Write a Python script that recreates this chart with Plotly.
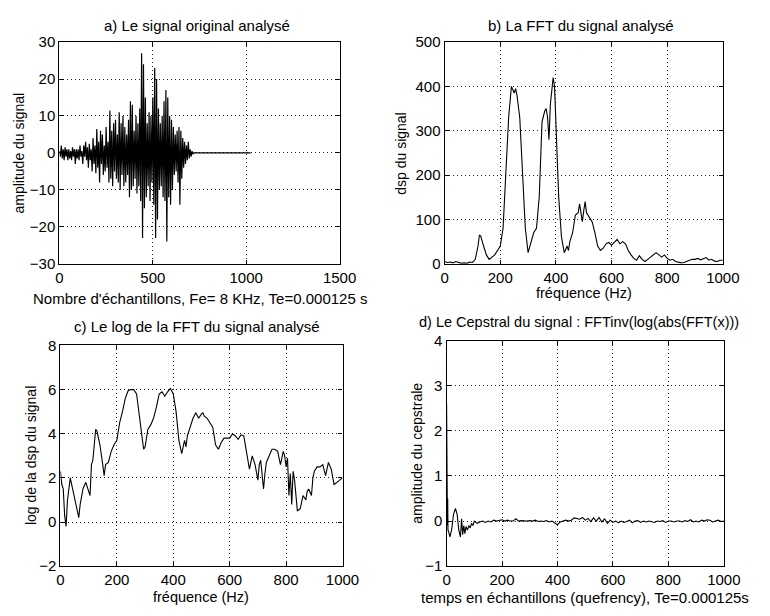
import plotly.graph_objects as go

# ---------------- data ----------------
# a) original signal (sample index, amplitude)
sig_n = [0, 5, 10, 15, 20, 25, 30, 35, 40, 45, 50, 55, 60, 65, 70, 75, 80, 85, 90, 95,
         100, 105, 110, 115, 120, 125, 130, 135, 140, 145, 150, 155, 160, 165, 170, 175, 180, 185, 190, 195,
         200, 205, 210, 215, 220, 225, 230, 235, 240, 245, 250, 255, 260, 265, 270, 275, 280, 285, 290, 295,
         300, 305, 310, 315, 320, 325, 330, 335, 340, 345, 350, 355, 360, 365, 370, 375, 380, 385, 390, 395,
         400, 405, 410, 415, 420, 425, 430, 435, 440, 445, 450, 455, 460, 465, 470, 475, 480, 485, 490, 495,
         500, 505, 510, 515, 520, 525, 530, 535, 540, 545, 550, 555, 560, 565, 570, 575, 580, 585, 590, 595,
         600, 605, 610, 615, 620, 625, 630, 635, 640, 645, 650, 655, 660, 665, 670, 675, 680, 685, 690, 695,
         700, 705, 710, 715, 720, 1024]
sig_v = [0.5, -1, 2, -1.5, 1, -2, 1.5, -1, 1, -2, 1, -1.5, 0.5, -2, 1.5, -1, 1, -3, 1, -1.5,
         1, -2, 2, -1, 0.5, -3, 2, -1, 3, -2, 1.5, -4, 2.5, -2, 1, -5, 4, -3, 2, -5.5,
         6.5, -4, 3, -8, 6, -3, 5, -6, 2, -5, 7, -4, 3, -8, 11.5, -7, 6, -9, 8, -5,
         9, -7, 5, -8, 11, -10, 8, -6, 10, -9, 7, -8, 5, -6, 9, -12, 14, -10, 13, -9,
         6, -7, 10, -11, 8, -9, 12, -13, 27, -23, 24, -15, 15, -12, 8, -9, 11, -13, 10, -8,
         15, -14, 23, -23, 20, -18, 12, -10, 8, -9, 10, -12, 14, -13, 17, -24, 15, -12, 10, -14,
         9, -10, 7, -6, 5, -5, 6, -8, 7, -14, 6, -7, 4, -4, 3, -3, 2, -2, 3, -1.5,
         1, -1, 0.5, -0.3, 0, 0]

# b) FFT magnitude (Hz, dsp)
fft_f = [0, 10, 20, 30, 40, 50, 60, 70, 80, 90, 100, 110, 120, 125, 130, 140, 150, 160, 170, 180,
         190, 200, 210, 220, 230, 240, 250, 255, 260, 270, 280, 290, 300, 310, 320, 330, 340, 350, 360, 365,
         370, 375, 380, 385, 390, 395, 400, 410, 420, 430, 440, 445, 450, 460, 470, 480, 485, 490, 495, 500,
         505, 510, 520, 530, 540, 550, 560, 570, 580, 590, 600, 610, 620, 630, 640, 650, 660, 670, 680, 690,
         700, 710, 720, 730, 740, 750, 760, 770, 780, 790, 800, 810, 820, 830, 840, 850, 860, 870, 880, 890,
         900, 910, 920, 930, 940, 950, 960, 970, 980, 990, 1000]
fft_v = [5, 3, 4, 2, 5, 3, 1, 2, 1, 4, 3, 10, 40, 65, 62, 40, 20, 10, 15, 20,
         30, 40, 80, 200, 330, 400, 385, 395, 380, 330, 200, 80, 25, 50, 70, 80, 150, 320, 345, 350,
         330, 280, 360, 390, 420, 400, 320, 150, 60, 25, 40, 30, 50, 70, 110, 115, 135, 110, 95, 120,
         140, 115, 105, 95, 70, 40, 30, 35, 45, 48, 42, 48, 55, 45, 50, 45, 30, 20, 12, 8,
         18, 10, 5, 10, 15, 22, 25, 20, 15, 20, 12, 8, 10, 5, 3, 2, 3, 5, 8, 10,
         10, 12, 9, 12, 14, 8, 10, 6, 5, 8, 8]

# c) log of the FFT (Hz, log dsp)
log_f = [0, 5, 10, 15, 20, 25, 30, 35, 40, 50, 60, 65, 70, 80, 90, 95, 100, 105, 110, 115,
         120, 125, 130, 140, 150, 155, 160, 170, 180, 190, 200, 210, 220, 230, 240, 250, 260, 270, 280, 290,
         295, 300, 310, 320, 330, 340, 350, 360, 370, 380, 390, 400, 410, 420, 430, 440, 445, 450, 460, 470,
         480, 490, 500, 505, 510, 520, 530, 540, 550, 560, 570, 580, 590, 600, 610, 620, 630, 640, 650, 660,
         670, 680, 690, 700, 705, 710, 715, 720, 725, 730, 740, 750, 760, 770, 780, 790, 795, 800, 805, 810,
         815, 820, 825, 830, 840, 850, 860, 870, 875, 880, 890, 895, 900, 910, 920, 930, 940, 950, 960, 970,
         980, 990, 1000]
log_v = [2.3, 1.7, 1.5, 0.3, -0.2, 1.0, 1.5, 2.0, 1.7, 1.1, 0.5, 0.2, 0.8, 1.5, 1.8, 1.6, 1.3, 1.2, 2.6, 2.8,
         3.5, 4.2, 4.1, 3.5, 2.6, 2.1, 2.6, 2.7, 3.2, 3.5, 3.7, 4.5, 5.0, 5.6, 5.95, 6.0, 6.0, 5.8, 4.8, 3.7,
         3.3, 3.4, 4.2, 4.4, 4.7, 5.2, 5.8, 5.9, 5.7, 5.9, 6.05, 5.8, 5.0, 3.7, 3.1, 3.7, 3.4, 3.9, 4.3, 4.7,
         4.95, 4.7, 4.9, 4.95, 4.8, 4.7, 4.5, 4.3, 3.5, 3.3, 3.6, 3.8, 3.8, 3.8, 4.0, 3.9, 3.75, 3.95, 3.9, 3.2,
         2.4, 3.0, 2.6, 1.9, 2.6, 2.8, 2.2, 1.5, 2.2, 2.7, 3.0, 3.3, 3.3, 3.2, 2.6, 3.2, 3.0, 2.5, 2.9, 1.2,
         2.2, 0.8, 2.3, 1.9, 0.5, 0.6, 1.2, 1.0, 1.4, 1.5, 1.2, 2.0, 2.3, 2.5, 2.5, 2.6, 2.1, 2.7, 2.4, 1.7,
         1.8, 1.9, 2.0]

# d) cepstrum (quefrency samples, amplitude)
cep_n = [0, 1, 2, 3, 4, 5, 8, 12, 18, 25, 32, 38, 44, 50, 54, 58, 62, 66, 70, 75,
         80, 85, 90, 95, 100, 110, 120, 130, 140, 150, 160, 170, 180, 190, 200, 210, 220, 230, 240, 250,
         260, 270, 280, 290, 300, 310, 320, 330, 340, 350, 360, 370, 380, 390, 400, 410, 420, 430, 440, 450,
         460, 470, 480, 490, 500, 510, 520, 530, 540, 550, 560, 570, 580, 590, 600, 610, 620, 630, 640, 650,
         660, 670, 680, 690, 700, 710, 720, 730, 740, 750, 760, 770, 780, 790, 800, 810, 820, 830, 840, 850,
         860, 870, 880, 890, 900, 910, 920, 930, 940, 950, 960, 970, 980, 990, 1000]
cep_v = [2.6, 0.0, 1.6, -0.1, 0.5, -0.2, -0.25, -0.35, -0.2, 0.15, 0.28, 0.15, -0.2, -0.35, 0.05, -0.3, -0.1, -0.28, -0.12, -0.2,
         -0.1, -0.15, -0.05, -0.1, 0.0, -0.05, -0.02, 0.0, -0.03, 0.0, -0.02, 0.02, 0.0, 0.02, 0.03, 0.0, 0.02, 0.0, 0.0, 0.05,
         0.0, 0.01, 0.0, 0.0, 0.01, 0.0, 0.02, -0.01, 0.0, -0.01, 0.01, -0.02, 0.0, -0.05, -0.08, -0.02, 0.0, 0.02, 0.0, 0.02,
         0.07, 0.05, 0.04, 0.08, 0.02, 0.06, -0.01, 0.07, 0.0, 0.08, -0.02, 0.05, -0.05, 0.02, -0.03, 0.0, -0.04, 0.0, -0.03, -0.01,
         0.02, -0.04, 0.0, 0.01, -0.03, 0.0, -0.02, 0.0, -0.01, -0.03, 0.0, -0.01, 0.01, -0.03, 0.0, 0.0, -0.02, 0.0, 0.0, -0.02,
         0.01, -0.01, 0.03, -0.02, 0.0, -0.02, 0.02, 0.0, 0.03, 0.02, -0.02, 0.0, 0.02, -0.01, 0.0]

titles = ["a) Le signal original analysé", "b) La FFT du signal analysé",
          "c) Le log de la FFT du signal analysé",
          "d) Le Cepstral du signal : FFTinv(log(abs(FFT(x)))"]
xlabels = ["Nombre d'échantillons, Fe= 8 KHz, Te=0.000125 s", "fréquence (Hz)",
           "fréquence (Hz)", "temps en échantillons (quefrency), Te=0.000125s"]
ylabels = ["amplitude du signal", "dsp du signal", "log de la dsp du signal",
           "amplitude du cepstrale"]

# ---------------- figure ----------------
W, H = 770, 616
FONT = "Liberation Sans, Arial, sans-serif"

def px_x(p):
    return p / W

def px_y(p):
    return 1 - p / H

panels = [
    # (x0,x1,ytop,ybottom) in pixels
    (57, 345, 34, 262),
    (453, 739, 34, 262),
    (58, 348, 346, 573),
    (455, 740, 341, 573),
]
title_y = [17, 17, 326, 322]
title_x = [198, 593, 198, 591]
xlabel_y = [298, 292, 605, 605]
ylabel_x = [15, 408, 28, 425]
xranges = [[0, 1500], [0, 1000], [0, 1000], [0, 1000]]
yranges = [[-30, 30], [0, 500], [-2, 8], [-1, 4]]
xdticks = [500, 200, 200, 200]
ydticks = [10, 100, 2, 1]

data = [(sig_n, sig_v), (fft_f, fft_v), (log_f, log_v), (cep_n, cep_v)]

fig = go.Figure()
layout = dict(width=W, height=H, margin=dict(l=0, r=0, t=0, b=0),
              paper_bgcolor="white", plot_bgcolor="white", showlegend=False,
              font=dict(family=FONT, color="black"))
annotations = []
for i, ((x0, x1, yt, yb), (xs, ys)) in enumerate(zip(panels, data)):
    k = "" if i == 0 else str(i + 1)
    fig.add_trace(go.Scatter(x=xs, y=ys, mode="lines",
                             line=dict(color="black", width=1.2 if i == 0 else 1.1),
                             xaxis="x" + k, yaxis="y" + k, hoverinfo="skip"))
    axcommon = dict(showline=True, linecolor="black", linewidth=1.3, mirror="ticks",
                    ticks="inside", ticklen=4, tickcolor="black",
                    showgrid=True, gridcolor="#222222", gridwidth=1, griddash="1px,3px",
                    zeroline=False, tickfont=dict(family=FONT, size=15, color="black"))
    layout["xaxis" + k] = dict(axcommon, domain=[px_x(x0), px_x(x1)], range=xranges[i],
                               dtick=xdticks[i], tick0=0, anchor="y" + k)
    layout["yaxis" + k] = dict(axcommon, domain=[px_y(yb), px_y(yt)], range=yranges[i],
                               dtick=ydticks[i], tick0=0, anchor="x" + k)
    annotations.append(dict(text=titles[i], x=px_x(title_x[i]), y=px_y(title_y[i]),
                            xref="paper", yref="paper", showarrow=False,
                            font=dict(size=15 if i != 3 else 14.5),
                            xanchor="center", yanchor="middle"))
    annotations.append(dict(text=xlabels[i], x=px_x((x0 + x1) / 2), y=px_y(xlabel_y[i]),
                            xref="paper", yref="paper", showarrow=False,
                            font=dict(size=15 if i in (0, 3) else 14.5),
                            xanchor="center", yanchor="middle"))
    annotations.append(dict(text=ylabels[i], x=px_x(ylabel_x[i]), y=px_y((yt + yb) / 2),
                            xref="paper", yref="paper", showarrow=False, font=dict(size=14),
                            textangle=-90, xanchor="center", yanchor="middle"))
layout["annotations"] = annotations
fig.update_layout(**layout)
fig.write_html("out.html")
